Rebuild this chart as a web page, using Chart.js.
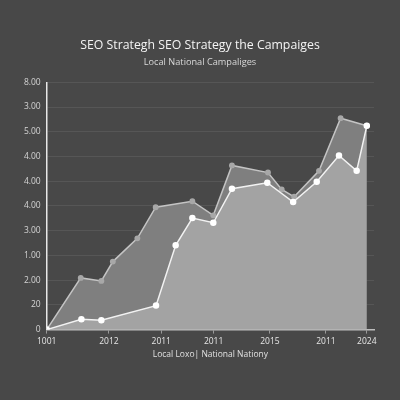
<!DOCTYPE html>
<html lang="en">
<head>
    <meta charset="UTF-8">
    <title>SEO Strategy Campaigns</title>
    <script src="https://cdn.jsdelivr.net/npm/chart.js"></script>
    <style>
        body { margin: 0; background: #484848; }
        #wrap { width: 400px; height: 400px; position: relative; }
    </style>
</head>
<body>
    <div id="wrap"><canvas id="seoChart"></canvas></div>

    <script>
        // y axis labels as printed, bottom to top
        const yTickLabels = ['0', '20', '2.00', '1.00', '3.00', '4.00', '4.00', '4.00', '5.00', '3.00', '8.00'];
        // x axis labels and where they sit on the 0-100 axis
        const xTickLabels = ['1001', '2012', '2011', '2011', '2015', '2011', '2024'];
        const xTickPos = [0, 19, 35, 51, 68.2, 85.3, 97.8];

        // National (upper band)
        const nationalX = [0, 10.4, 16.7, 20.2, 27.7, 33.3, 44.5, 50.9, 56.6, 67.6, 71.8, 75.6, 83.2, 89.8, 97.8];
        const nationalY = [0, 2.09, 1.97, 2.75, 3.69, 4.95, 5.19, 4.62, 6.64, 6.35, 5.67, 5.37, 6.42, 8.55, 8.24];

        // Local (lower band)
        const localX = [0, 10.6, 16.7, 33.4, 39.4, 44.5, 50.9, 56.6, 67.4, 75.3, 82.5, 89.3, 94.7, 97.8];
        const localY = [0, 0.42, 0.38, 0.97, 3.41, 4.51, 4.32, 5.70, 5.94, 5.16, 5.98, 7.04, 6.42, 8.24];

        const toPoints = (xs, ys) => xs.map((x, i) => ({ x: x, y: ys[i] }));

        const ctx = document.getElementById('seoChart').getContext('2d');
        const seoChart = new Chart(ctx, {
            type: 'line',
            data: {
                datasets: [
                    {
                        label: 'Local',
                        data: toPoints(localX, localY),
                        borderColor: '#f2f2f2',
                        backgroundColor: '#a3a3a3',
                        borderWidth: 1.5,
                        pointRadius: 2.5,
                        pointBackgroundColor: '#ffffff',
                        pointBorderColor: '#ffffff',
                        fill: 'origin',
                        tension: 0
                    },
                    {
                        label: 'National',
                        data: toPoints(nationalX, nationalY),
                        borderColor: '#c4c4c4',
                        backgroundColor: '#7f7f7f',
                        borderWidth: 1.5,
                        pointRadius: 2.2,
                        pointBackgroundColor: '#a8a8a8',
                        pointBorderColor: '#a8a8a8',
                        fill: 'origin',
                        tension: 0
                    }
                ]
            },
            options: {
                responsive: true,
                maintainAspectRatio: false,
                animation: false,
                layout: {
                    padding: { top: 38, left: 8, right: 8, bottom: 40 }
                },
                plugins: {
                    legend: { display: false },
                    tooltip: { enabled: false },
                    title: {
                        display: true,
                        text: 'SEO Strategh SEO Strategy the Campaiges',
                        color: '#f4f4f4',
                        font: { family: 'Open Sans', size: 12.3, weight: 'normal' },
                        padding: { top: 0, bottom: 4.5 }
                    },
                    subtitle: {
                        display: true,
                        text: 'Local National Campaliges',
                        color: '#d8d8d8',
                        font: { family: 'Open Sans', size: 9.2 },
                        padding: { top: 0, bottom: 14 }
                    }
                },
                scales: {
                    x: {
                        type: 'linear',
                        min: 0,
                        max: 100,
                        afterBuildTicks: (axis) => {
                            axis.ticks = xTickPos.map(v => ({ value: v }));
                        },
                        ticks: {
                            autoSkip: false,
                            maxRotation: 0,
                            color: '#e6e6e6',
                            font: { family: 'Open Sans', size: 8.5 },
                            padding: 3,
                            callback: (value, index) => xTickLabels[index]
                        },
                        grid: {
                            drawOnChartArea: false,
                            color: '#9a9a9a',
                            tickLength: 4
                        },
                        border: { color: '#bdbdbd', width: 1.5 },
                        title: {
                            display: true,
                            text: 'Local Loxo| National Nationy',
                            color: '#e0e0e0',
                            font: { family: 'Open Sans', size: 8.5 },
                            padding: { top: 0, bottom: 0 }
                        }
                    },
                    y: {
                        min: 0,
                        max: 10,
                        afterFit: (axis) => { axis.width = 38.7; },
                        ticks: {
                            stepSize: 1,
                            color: '#d4d4d4',
                            font: { family: 'Open Sans', size: 8.5 },
                            padding: 6,
                            callback: (value) => yTickLabels[value]
                        },
                        grid: {
                            color: 'rgba(255, 255, 255, 0.08)',
                            drawTicks: false
                        },
                        border: { color: '#e8e8e8', width: 1.5 }
                    },
                    // empty right axis, only keeps the plot off the right edge
                    yRight: {
                        position: 'right',
                        min: 0,
                        max: 10,
                        afterFit: (axis) => { axis.width = 18; },
                        ticks: { display: false },
                        grid: { display: false },
                        border: { display: false }
                    }
                }
            }
        });
    </script>
</body>
</html>
